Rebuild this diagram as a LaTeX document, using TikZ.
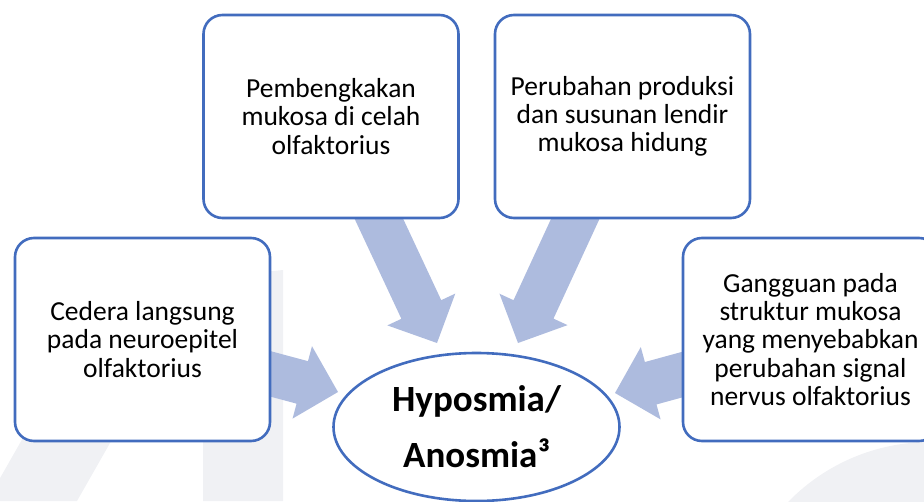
\documentclass[tikz,border=0pt]{standalone}
\usepackage{fontspec}
\setmainfont{Carlito}
\usetikzlibrary{calc,backgrounds,shapes.geometric}
\definecolor{boxblue}{RGB}{66,108,190}
\definecolor{pilblue}{RGB}{173,187,222}
\definecolor{wmgray}{RGB}{240,241,244}
\tikzset{
    %Define style for the cause boxes
    cause/.style={
           rectangle,
           rounded corners=19pt,
           draw=boxblue, line width=2.6pt,
           fill=white,
           minimum width=255pt,
           minimum height=203pt,
           align=center,
           font=\fontsize{27.5}{28.3}\selectfont},
    %Define style for the result
    effect/.style={
           ellipse,
           draw=boxblue, line width=2.6pt,
           fill=white,
           inner sep=0pt,
           minimum width=286pt,
           minimum height=148pt,
           align=center,
           font=\bfseries\fontsize{37}{56}\selectfont},
    % Define block arrow and watermark style
    pil/.style={fill=pilblue, draw=none},
    wm/.style={fill=wmgray, draw=none}
}
% block arrow from #1 (behind the box) to the tip #2
\newcommand{\pilarrow}[2]{%
  \coordinate (#2-b) at ($(#2)!37pt!(#1)$);
  \fill[pil] ($(#1)!22pt!90:(#2)$) -- ($(#2-b)!22pt!-90:(#1)$)
    -- ($(#2-b)!37.5pt!-90:(#1)$) -- (#2)
    -- ($(#2-b)!37.5pt!90:(#1)$) -- ($(#2-b)!22pt!90:(#1)$)
    -- ($(#1)!22pt!-90:(#2)$) -- cycle;}

\begin{document}
\begin{tikzpicture}[x=1pt,y=-1pt]
\useasboundingbox (0,0) rectangle (924,501);
 %nodes
\node[cause] (cl) at (142.5,339.5) {Cedera langsung\\pada neuroepitel\\olfaktorius};
\node[cause] (pb) at (331,116.5) {Pembengkakan\\mukosa di celah\\olfaktorius};
\node[cause] (pr) at (622.5,116.5) {Perubahan produksi\\dan susunan lendir\\mukosa hidung};
\node[cause] (gg) at (810.5,339.5) {Gangguan pada\\struktur mukosa\\yang menyebabkan\\perubahan signal\\nervus olfaktorius};
\node[effect] (ha) at (476.5,427) {Hyposmia/\\Anosmia³};
 %arrow tips
\coordinate (t1) at (338,392);
\coordinate (t2) at (437,343);
\coordinate (t3) at (518,343);
\coordinate (t4) at (615,393);
\begin{scope}[on background layer]
\clip (0,0) rectangle (924,501);
 %watermark
\fill[wm] (-13,501) -- (77,501) -- (200,285) -- (110,285) -- cycle;
\fill[wm] (203,278) -- (283,270) -- (283,501) -- (203,501) -- cycle;
\fill[wm] (930,640) circle (198);
 %arrows
\pilarrow{cl}{t1}
\pilarrow{pb}{t2}
\pilarrow{pr}{t3}
\pilarrow{gg}{t4}
\end{scope}
\end{tikzpicture}
\end{document}
